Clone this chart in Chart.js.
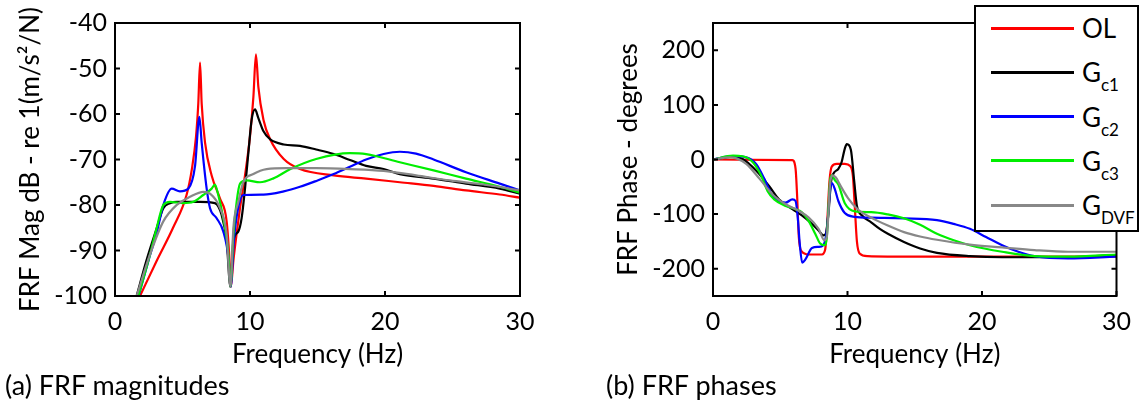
<!DOCTYPE html>
<html>
<head>
<meta charset="utf-8">
<script src="https://cdn.jsdelivr.net/npm/chart.js@4"></script>
<style>
  body { margin: 0; background: #fff; width: 1142px; height: 412px; overflow: hidden; position: relative; font-family: Lato, sans-serif; color: #000; }
  .plot { position: absolute; top: 0; height: 372px; }
  .caption { position: absolute; font-size: 27px; line-height: 30px; white-space: nowrap; }
  #legend { position: absolute; left: 974px; top: 5px; width: 161px; height: 223px; border: 2px solid #000; background: #fff; }
  .row { position: absolute; left: 0; height: 40px; display: flex; align-items: center; }
  .swatch { width: 83px; height: 3px; margin-left: 15px; }
  .lbl { margin-left: 8px; font-size: 26px; line-height: 28px; white-space: nowrap; }
  .lbl sub { font-size: 17px; vertical-align: -9px; line-height: 0; }
</style>
</head>
<body>
<div class="plot" style="left:0;width:560px"><canvas id="magChart"></canvas></div>
<div class="plot" style="left:580px;width:562px"><canvas id="phaseChart"></canvas></div>
<div id="legend"></div>
<div class="caption" style="left:5px;top:370px">(a) FRF magnitudes</div>
<div class="caption" style="left:606px;top:370px">(b) FRF phases</div>
<script>
// Setup

const legendMain = ["OL", "G", "G", "G", "G"];
const legendSub = ["", "c1", "c2", "c3", "DVF"];
const colors = ["#ff0000", "#000000", "#0000ff", "#00ee00", "#888888"];

const xTicks = [0, 10, 20, 30];
const magTicks = [-100, -90, -80, -70, -60, -50, -40];
const phaseTicks = [-200, -100, 0, 100, 200];

// FRF magnitude, [Hz, dB]
const magOL = [[1.85,-100],[3.1,-92.2],[4.3,-85],[5.3,-77.8],[5.7,-72],[6.0,-65],[6.17,-57.7],[6.3,-48.7],[6.42,-57.7],[6.67,-66.3],[7.16,-73.5],[7.78,-78.6],[8.27,-83.6],[8.5,-93],[8.58,-98],[8.77,-92.2],[9.0,-86.5],[9.26,-80.7],[9.63,-73.5],[10.0,-64.9],[10.25,-56.3],[10.44,-46.9],[10.62,-54.1],[11.0,-61.3],[11.5,-65.6],[12.5,-69.9],[13.7,-72.1],[16.2,-73.5],[18.6,-74.2],[21.1,-75],[23.6,-75.8],[26,-76.8],[28.5,-77.7],[30,-78.4]];
const magGc1 = [[1.6,-100],[2.35,-92],[3.1,-85],[3.58,-80.7],[4.07,-79.6],[4.6,-79.3],[6.3,-79.3],[7.4,-79.6],[7.9,-82.2],[8.27,-87.9],[8.55,-98],[8.77,-87.9],[9.14,-85.8],[9.38,-82.9],[9.63,-76.4],[9.88,-68.5],[10.12,-61.3],[10.37,-59],[10.62,-60.9],[11,-63.8],[11.5,-65.6],[12.5,-66.7],[13.7,-67],[14.9,-67.8],[16.2,-68.8],[17.4,-70.1],[18.6,-71.4],[19.9,-72.1],[21.1,-73.2],[23.6,-74.2],[26,-75.3],[28.5,-76.4],[30,-77.5]];
const magGc2 = [[1.75,-100],[2.5,-92],[3.1,-86],[3.58,-80],[4.2,-76.4],[4.81,-77],[5.43,-76.4],[5.93,-71.4],[6.25,-60.6],[6.42,-66.3],[6.79,-76.4],[7.04,-80.7],[7.53,-82.9],[8.02,-85.8],[8.4,-91.5],[8.57,-98],[8.8,-88],[9.1,-81],[9.5,-77.8],[11,-77.7],[12.5,-77],[13.7,-76],[15,-74.6],[16.2,-73.2],[17.4,-71.6],[18.6,-70],[19.9,-68.8],[21.1,-68.3],[22.3,-68.7],[23.6,-70],[26,-72.8],[28.5,-75.3],[30,-76.8]];
const magGc3 = [[1.73,-100],[2.6,-90.8],[3.09,-85],[3.58,-80],[4.07,-79.3],[5.06,-79.6],[5.8,-79.3],[6.54,-77.8],[7.16,-76.4],[7.4,-75.5],[7.65,-77.8],[8.02,-82.9],[8.4,-90.8],[8.55,-98],[8.77,-86.5],[9.01,-79.3],[9.26,-75.3],[9.75,-74.6],[10.74,-75],[11.7,-74.2],[13,-72.1],[14.9,-69.9],[17.4,-68.6],[18.6,-68.8],[21.1,-70.6],[23.6,-72.4],[26,-74.2],[28.5,-76],[30,-77.3]];
const magDVF = [[1.6,-100],[2.6,-90.8],[3.58,-83.6],[4.57,-80],[5.56,-78.2],[6.54,-77.1],[7.04,-77.5],[7.78,-80.7],[8.27,-86.5],[8.55,-98],[8.77,-85],[9.14,-79.3],[9.5,-75],[10.25,-73.2],[11.23,-72.1],[12.7,-71.9],[14.9,-71.9],[17.4,-72.1],[19.9,-72.5],[22.3,-73.5],[24.8,-74.6],[27.3,-75.5],[30,-76.8]];

// FRF phase, [Hz, degrees]
const phOL = [[0,0],[5.9,-1],[6.14,-17],[6.26,-70],[6.38,-142],[6.58,-168],[7.1,-174],[8.1,-174],[8.34,-165],[8.46,-130],[8.66,-40],[8.83,-13],[9.2,-8],[9.8,-8],[10.2,-12],[10.4,-30],[10.55,-90],[10.7,-150],[10.9,-172],[11.5,-177],[15,-178],[30,-178]];
const phGc1 = [[0,0],[1.49,5],[2.2,1],[3.2,-20],[4.18,-49],[4.9,-73],[5.9,-91],[6.63,-103],[7.36,-118],[7.85,-130],[8.2,-139],[8.39,-136],[8.58,-100],[8.78,-40],[8.95,-26],[9.32,-17],[9.56,-5],[9.8,20],[9.95,28],[10.25,18],[10.5,-40],[10.7,-85],[11.1,-103],[11.76,-115],[12.4,-127],[13,-136],[14.2,-151],[15.4,-163],[16.65,-171],[19.1,-177],[21.5,-179],[26.4,-179],[30,-175]];
const phGc2 = [[0,0],[1.49,6],[2.47,4],[3.2,-8],[3.81,-35],[4.3,-61],[4.79,-76],[5.4,-79],[5.9,-73],[6.14,-76],[6.3,-106],[6.45,-154],[6.63,-189],[6.87,-183],[7.36,-162],[7.85,-160],[8.2,-157],[8.46,-130],[8.7,-58],[8.83,-43],[9.07,-55],[9.32,-76],[9.8,-98],[10.54,-105],[11.76,-106.5],[14.2,-107.7],[16.65,-111],[17.9,-118],[19.1,-127],[20.3,-142],[21.5,-157],[22.7,-169],[23.9,-177],[26.4,-181],[30,-178]];
const phGc3 = [[0,0],[1.49,7],[2.2,6],[2.96,-5],[3.57,-29],[4.06,-58],[4.55,-73],[5.4,-85],[6.14,-91],[6.63,-97],[7.1,-112],[7.6,-136],[7.97,-154],[8.29,-157],[8.46,-142],[8.7,-40],[8.83,-29],[9.07,-38],[9.32,-46],[9.8,-80],[10.54,-95],[11.76,-96.4],[13,-100.6],[14.2,-107.7],[15.4,-119.6],[16.65,-136],[17.9,-148],[19.1,-157],[21.5,-169],[23.9,-177],[26.4,-178],[30,-174]];
const phDVF = [[0,0],[1.25,4],[1.74,2],[2.47,-8],[3.45,-35],[4.43,-64],[5.4,-82],[6.38,-94],[7.1,-106],[7.85,-127],[8.29,-148],[8.46,-142],[8.7,-46],[8.88,-29],[9.2,-35],[9.32,-41],[10.05,-71],[10.8,-92],[11.76,-106.5],[13,-121],[14.2,-133],[15.4,-141],[16.65,-147],[19.1,-156],[21.5,-161],[23.9,-166],[26.4,-169],[30,-169]];

// Config

const tickFont = { family: "Lato", size: 25, lineHeight: 1.2 };
const titleFont = { family: "Lato", size: 26, lineHeight: 1.2 };

// matlab style box with ticks pointing inwards
const frame = {
    id: "frame",
    afterDatasetsDraw(chart) {
        const { ctx, chartArea: a, scales: { x, y } } = chart;
        ctx.save();
        ctx.strokeStyle = "#000";
        ctx.lineWidth = 2;
        ctx.beginPath();
        x.ticks.forEach(t => {
            const px = x.getPixelForValue(t.value);
            ctx.moveTo(px, a.bottom); ctx.lineTo(px, a.bottom - 5);
            ctx.moveTo(px, a.top); ctx.lineTo(px, a.top + 5);
        });
        y.ticks.forEach(t => {
            const py = y.getPixelForValue(t.value);
            ctx.moveTo(a.left, py); ctx.lineTo(a.left + 5, py);
            ctx.moveTo(a.right, py); ctx.lineTo(a.right - 5, py);
        });
        ctx.stroke();
        ctx.strokeRect(a.left, a.top, a.width, a.height);
        ctx.restore();
    }
};

function makeChart(id, series, yMin, yMax, yTicks, yTitle, opts) {
    const datasets = series.map((s, i) => ({
        data: s.map(([x, y]) => ({ x, y })),
        borderColor: colors[i],
        borderWidth: 2.2,
        pointRadius: 0,
        cubicInterpolationMode: "monotone",
        order: series.length - i
    }));
    return new Chart(document.getElementById(id), {
        type: "line",
        data: { datasets },
        options: {
            responsive: true,
            maintainAspectRatio: false,
            animation: false,
            layout: { padding: opts.padding },
            plugins: { legend: { display: false }, tooltip: { enabled: false } },
            scales: {
                x: {
                    type: "linear",
                    min: 0,
                    max: 30,
                    afterBuildTicks: s => { s.ticks = xTicks.map(v => ({ value: v })); },
                    afterFit: s => { s.height = 76; },
                    grid: { display: false, drawTicks: false },
                    border: { display: false },
                    ticks: { font: tickFont, color: "#000", padding: 11, maxRotation: 0, callback: v => String(v) },
                    title: { display: true, text: "Frequency (Hz)", font: titleFont, color: "#000", padding: { top: 0, bottom: 2 } }
                },
                y: {
                    min: yMin,
                    max: yMax,
                    afterBuildTicks: s => { s.ticks = yTicks.map(v => ({ value: v })); },
                    afterFit: s => { s.width = opts.yWidth; },
                    grid: { display: false, drawTicks: false },
                    border: { display: false },
                    ticks: { font: tickFont, color: "#000", padding: 8, callback: v => String(v) },
                    title: { display: true, text: yTitle, font: titleFont, color: "#000", padding: { top: opts.titlePad, bottom: 0 } }
                }
            }
        },
        plugins: [frame]
    });
}

// Render init block

makeChart("magChart", [magOL, magGc1, magGc2, magGc3, magDVF], -100, -40, magTicks,
    "FRF Mag dB - re 1(m/s\u00b2/N)", { padding: { top: 18, right: 40, left: 0, bottom: 0 }, yWidth: 115, titlePad: 15 });

makeChart("phaseChart", [phOL, phGc1, phGc2, phGc3, phDVF], -250, 250, phaseTicks,
    "FRF Phase - degrees", { padding: { top: 17, right: 20, left: 0, bottom: 0 }, yWidth: 133, titlePad: 33 });

const legend = document.getElementById("legend");
legendMain.forEach((m, i) => {
    const row = document.createElement("div");
    row.className = "row";
    row.style.top = (1 + i * 44.3) + "px";
    const sw = document.createElement("span");
    sw.className = "swatch";
    sw.style.background = colors[i];
    const lbl = document.createElement("span");
    lbl.className = "lbl";
    lbl.textContent = m;
    if (legendSub[i]) {
        const sub = document.createElement("sub");
        sub.textContent = legendSub[i];
        lbl.appendChild(sub);
    }
    row.appendChild(sw);
    row.appendChild(lbl);
    legend.appendChild(row);
});
</script>
</body>
</html>
